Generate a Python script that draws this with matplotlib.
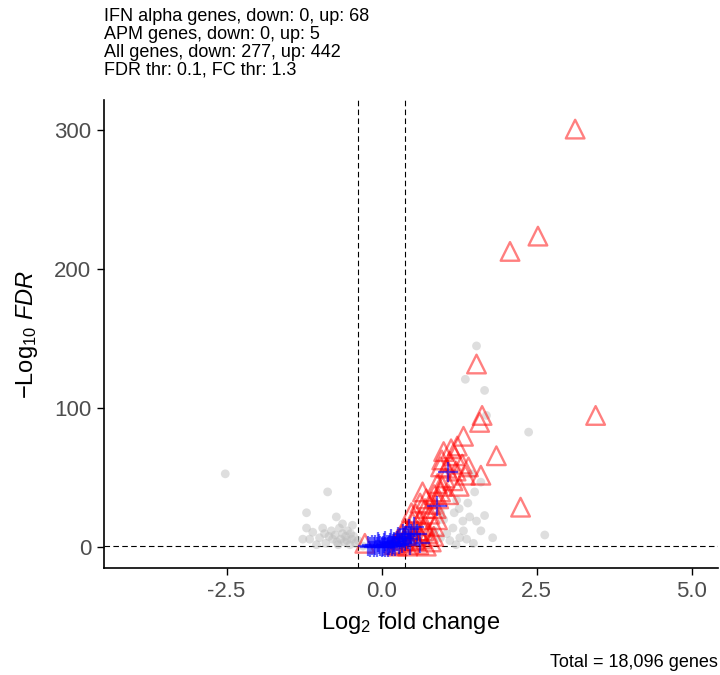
import matplotlib
matplotlib.use("Agg")
import matplotlib.pyplot as plt
import numpy as np

plt.rcParams['font.family'] = ['Liberation Sans', 'DejaVu Sans']
plt.rcParams['mathtext.fontset'] = 'custom'
plt.rcParams['mathtext.rm'] = 'Liberation Sans'
plt.rcParams['mathtext.it'] = 'Liberation Sans:italic'

# other genes (grey)
grey_x = [-2.52, -0.87, -1.21, -0.73, -0.63, -0.47, -1.21, -1.11, -1.27, -0.95, -0.81, -1.0, -0.79,
          -0.63, -0.56, -0.51, -1.16, -0.9, -0.7, -0.45, -0.55, -0.68, -0.42, -1.05, -0.6, -0.75,
          -0.85, -0.5, -0.38, -0.3, -0.66, -0.58, -0.72, -0.48, -0.92,
          1.53, 1.35, 1.66, 1.69, 2.37, 1.45, 1.39, 1.66, 2.63, 1.79, 1.42, 1.53, 1.31, 1.21, 1.15,
          1.26, 1.37, 1.05, 0.95, 1.1, 1.0, 0.85, 1.25, 1.32, 1.6, 1.48, 1.17, 0.75, 1.2, 0.6, 0.95,
          1.5, 1.6]
grey_y = [53, 40, 25, 22, 17, 16, 14, 11, 6, 14, 12, 7, 6,
          10, 5, 2, 6, 3, 2, 8, 12, 14, 3, 2, 4, 9,
          8, 10, 5, 1, 6, 8, 4, 6, 10,
          145, 121, 113, 95, 83, 53, 32, 23, 9, 7, 22, 19, 19, 34, 14,
          7, 6, 10, 7, 5, 20, 12, 28, 12, 12, 3, 25, 5, 2, 14, 25,
          40, 47]

# IFN alpha genes (red triangles)
ifn_x = [3.12, 2.52, 2.07, 3.45, 1.53, 1.62, 1.58, 1.85, 2.24, 1.60,
         1.32, 1.22, 1.12, 1.00, 0.97, 1.10, 1.30, 1.05, 0.95, 1.20, 1.35, 1.02, 1.15, 0.90, 1.25,
         0.98, 0.85, 0.92, 0.72, 0.80, 0.62, 0.88, 0.70, 0.55, 0.78, 0.90, 0.62, 0.50, 0.70, 0.85,
         0.45, 0.58, 0.75, 0.40, 0.52, 0.65, 0.80, 0.45, 0.60, 0.35, 0.30, 0.25, 0.42, 0.72,
         -0.27,
         0.95, 1.08, 0.68, 0.55, 0.48, 1.40, 0.38, 0.66, 1.18, 0.84, 0.32, 0.26, 0.20]
ifn_y = [301, 224, 213, 95, 132, 95, 90, 66, 29, 52,
         80, 73, 71, 69, 63, 62, 60, 57, 58, 55, 52, 50, 48, 46, 44,
         44, 38, 35, 35, 31, 32, 28, 28, 24, 24, 20, 20, 18, 16, 15,
         13, 12, 10, 9, 8, 6, 4, 4, 2, 5, 3, 1, 1, 1,
         3,
         40, 38, 12, 5, 25, 58, 14, 40, 66, 8, 10, 6, 2]

# APM genes (blue crosses)
apm_x = [1.07, 0.90, 0.57, 0.62, 0.45,
         -0.22, -0.18, -0.15, -0.12, -0.10, -0.08, -0.05, -0.03, 0.0, 0.02, 0.04, 0.06, 0.08, 0.10,
         0.12, 0.14, 0.16, 0.18, 0.20, 0.22, 0.25, 0.28, 0.30, 0.33, 0.36, 0.38, 0.40, 0.42, 0.48,
         -0.06, 0.05, 0.15, 0.26, 0.35, 0.44, 0.52]
apm_y = [54, 30, 10, 3, 2,
         1, 0.5, 2, 0.3, 1.5, 0.2, 2.5, 0.8, 0.1, 1.2, 3, 0.5, 2, 0.4,
         1.6, 3.5, 0.9, 2.6, 4, 1.2, 5, 2.5, 6, 3.5, 7, 5, 8, 6, 10,
         4, 5, 6, 7.5, 9.5, 13, 15]

fc_thr = np.log2(1.3)
fdr_thr = -np.log10(0.1)

fig = plt.figure(figsize=(7.2, 6.75), dpi=100, facecolor='white')
ax = fig.add_axes([0.144, 0.158, 0.853, 0.694])

ax.scatter(grey_x, grey_y, s=40, color='#BEBEBE', alpha=0.5, edgecolors='none', zorder=2)
ax.scatter(ifn_x, ifn_y, s=180, marker='^', facecolors='none', edgecolors='red', alpha=0.5,
           linewidths=1.7, zorder=3)
ax.scatter(apm_x, apm_y, s=220, marker='+', color='blue', alpha=0.6, linewidths=1.6, zorder=4)

ax.axvline(-fc_thr, color='black', linestyle=(0, (5, 3)), linewidth=0.8, zorder=1)
ax.axvline(fc_thr, color='black', linestyle=(0, (5, 3)), linewidth=0.8, zorder=1)
ax.axhline(fdr_thr, color='black', linestyle=(0, (5, 3)), linewidth=0.8, zorder=1)

ax.set_xlim(-4.48, 5.42)
ax.set_ylim(-15, 322)
ax.set_xticks([-2.5, 0.0, 2.5, 5.0])
ax.set_xticklabels(['-2.5', '0.0', '2.5', '5.0'])
ax.set_yticks([0, 100, 200, 300])

for s in ['top', 'right']:
    ax.spines[s].set_visible(False)
for s in ['left', 'bottom']:
    ax.spines[s].set_linewidth(1.2)
ax.tick_params(axis='both', colors='black', labelsize=16, length=5, width=1.0,
               labelcolor='#4D4D4D', pad=4)

ax.set_xlabel(r'Log$_{2}$ fold change', fontsize=17, labelpad=6)
ax.set_ylabel(r'$-$Log$_{10}$ $\it{FDR}$', fontsize=17, labelpad=10)

subtitle = ("IFN alpha genes, down: 0, up: 68\n"
            "APM genes, down: 0, up: 5\n"
            "All genes, down: 277, up: 442\n"
            "FDR thr: 0.1, FC thr: 1.3")
fig.text(0.144, 0.988, subtitle, ha='left', va='top', fontsize=13, linespacing=1.07)
fig.text(0.997, 0.006, "Total = 18,096 genes", ha='right', va='bottom', fontsize=13)

fig.savefig('out.png', dpi=100, facecolor='white')
